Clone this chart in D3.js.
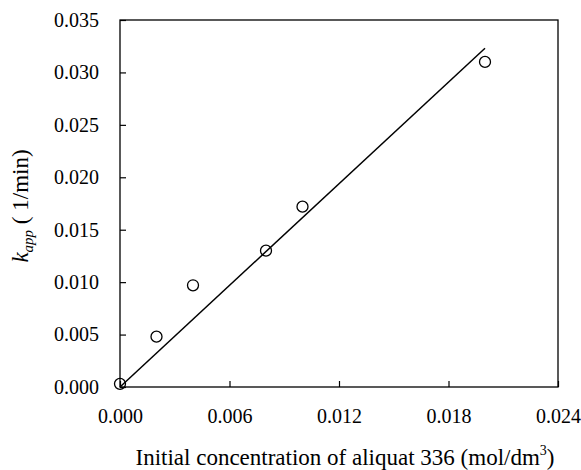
<!DOCTYPE html>
<html>
<head>
<meta charset="utf-8">
<script src="https://cdn.jsdelivr.net/npm/d3@7"></script>
<style>
  body { margin: 0; background: #fff; }
  text { font-family: "Liberation Serif", "Times New Roman", serif; fill: #000; }
</style>
</head>
<body>
<div id="chart"></div>
<script>
// data
var concentration = [0.0000, 0.0020, 0.0040, 0.0080, 0.0100, 0.0200];
var kapp = [0.0003, 0.0048, 0.0097, 0.0130, 0.0172, 0.0310];
// trend line end points
var fitLine = [[0.0000, 0.0000], [0.0200, 0.0323]];
var xTicks = [0, 0.006, 0.012, 0.018, 0.024];
var yTicks = [0, 0.005, 0.010, 0.015, 0.020, 0.025, 0.030, 0.035];

var svgWidth = 581, svgHeight = 470;
var margin = { top: 20, right: 23, bottom: 83, left: 120 };
var width = svgWidth - margin.left - margin.right;
var height = svgHeight - margin.top - margin.bottom;

var svg = d3.select("#chart").append("svg")
  .attr("width", svgWidth)
  .attr("height", svgHeight);

var g = svg.append("g")
  .attr("transform", `translate(${margin.left}, ${margin.top})`);

var x = d3.scaleLinear().domain([0, 0.024]).range([0, width]);
var y = d3.scaleLinear().domain([0, 0.035]).range([height, 0]);

// frame
g.append("rect")
  .attr("width", width)
  .attr("height", height)
  .attr("fill", "none")
  .attr("stroke", "#000")
  .attr("stroke-width", 1.3);

// x axis, ticks pointing inward
var xAxis = g.append("g")
  .attr("transform", `translate(0, ${height})`)
  .call(d3.axisBottom(x).tickValues(xTicks).tickFormat(d3.format(".3f"))
    .tickSizeInner(-6).tickSizeOuter(0).tickPadding(22));
xAxis.select(".domain").remove();
xAxis.selectAll("line").attr("stroke", "#000").attr("stroke-width", 1.2);
xAxis.selectAll("text").attr("font-size", "20px").attr("font-family", "Liberation Serif");

// y axis
var yAxis = g.append("g")
  .call(d3.axisLeft(y).tickValues(yTicks).tickFormat(d3.format(".3f"))
    .tickSizeInner(-6).tickSizeOuter(0).tickPadding(21));
yAxis.select(".domain").remove();
yAxis.selectAll("line").attr("stroke", "#000").attr("stroke-width", 1.2);
yAxis.selectAll("text").attr("font-size", "20px").attr("font-family", "Liberation Serif");

// trend line
g.append("path")
  .datum(fitLine)
  .attr("d", d3.line().x(d => x(d[0])).y(d => y(d[1])))
  .attr("fill", "none")
  .attr("stroke", "#000")
  .attr("stroke-width", 1.5);

// points
var pts = concentration.map((c, i) => ({ c: c, k: kapp[i] }));
g.selectAll(".pt")
  .data(pts)
  .enter()
  .append("circle")
  .attr("class", "pt")
  .attr("cx", d => x(d.c))
  .attr("cy", d => y(d.k))
  .attr("r", 5.5)
  .attr("fill", "none")
  .attr("stroke", "#000")
  .attr("stroke-width", 1.3);

// x axis title
var xt = svg.append("text")
  .attr("x", 345)
  .attr("y", 465)
  .attr("text-anchor", "middle")
  .attr("font-size", "23px");
xt.append("tspan").text("Initial concentration of aliquat 336 (mol/dm");
xt.append("tspan").attr("font-size", "14px").attr("dy", -10).text("3");
xt.append("tspan").attr("dy", 10).text(")");

// y axis title
var yt = svg.append("text")
  .attr("transform", "translate(28, 206) rotate(-90)")
  .attr("text-anchor", "middle")
  .attr("font-size", "23px");
yt.append("tspan").attr("font-style", "italic").text("k");
yt.append("tspan").attr("font-style", "italic").attr("font-size", "15px").attr("dy", 5).text("app");
yt.append("tspan").attr("dy", -5).text(" ( 1/min)");
</script>
</body>
</html>
